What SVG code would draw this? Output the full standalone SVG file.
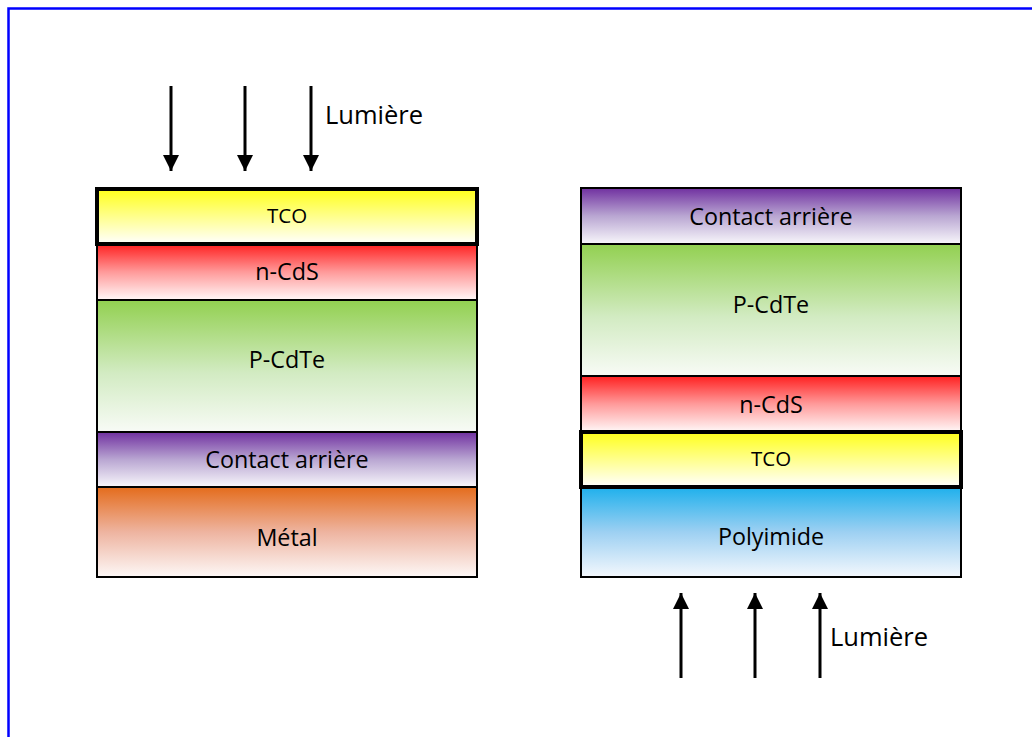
<svg xmlns="http://www.w3.org/2000/svg" width="1032" height="737" viewBox="0 0 1032 737">
  <defs>
    <linearGradient id="gYellow" x1="0" y1="0" x2="0" y2="1">
      <stop offset="0" stop-color="#ffff1a"/>
      <stop offset="1" stop-color="#ffffff"/>
    </linearGradient>
    <linearGradient id="gRed" x1="0" y1="0" x2="0" y2="1">
      <stop offset="0" stop-color="#ff2020"/>
      <stop offset="0.5" stop-color="#ff9a9a"/>
      <stop offset="1" stop-color="#fff8f8"/>
    </linearGradient>
    <linearGradient id="gGreen" x1="0" y1="0" x2="0" y2="1">
      <stop offset="0" stop-color="#92d050"/>
      <stop offset="0.55" stop-color="#d2ebc2"/>
      <stop offset="1" stop-color="#f8fbf6"/>
    </linearGradient>
    <linearGradient id="gPurple" x1="0" y1="0" x2="0" y2="1">
      <stop offset="0" stop-color="#7030a0"/>
      <stop offset="0.5" stop-color="#b9a6d2"/>
      <stop offset="1" stop-color="#f8f7fb"/>
    </linearGradient>
    <linearGradient id="gOrange" x1="0" y1="0" x2="0" y2="1">
      <stop offset="0" stop-color="#e46c1c"/>
      <stop offset="0.5" stop-color="#eeb4a0"/>
      <stop offset="1" stop-color="#fdf8f7"/>
    </linearGradient>
    <linearGradient id="gBlue" x1="0" y1="0" x2="0" y2="1">
      <stop offset="0" stop-color="#1eb0ec"/>
      <stop offset="0.5" stop-color="#9dd0f2"/>
      <stop offset="1" stop-color="#f4f8fd"/>
    </linearGradient>
    <marker id="head" viewBox="0 0 16 16" refX="16" refY="8" markerWidth="16" markerHeight="16" markerUnits="userSpaceOnUse" orient="auto">
      <path d="M0,0 L16,8 L0,16 Z" fill="#000"/>
    </marker>
  </defs>
  <style>
    .layer { stroke: #000; stroke-width: 2; }
    .thick { stroke: #000; stroke-width: 4; }
    .lbl { font-family: "Open Sans", "Liberation Sans", sans-serif; font-size: 23.3px; fill: #000; text-anchor: middle; }
    .small { font-size: 20.5px; }
    .light { font-family: "Open Sans", "Liberation Sans", sans-serif; font-size: 25.5px; fill: #000; }
    .ray { stroke: #000; stroke-width: 3; fill: none; marker-end: url(#head); }
  </style>

  <rect x="0" y="0" width="1032" height="737" fill="#fff"/>
  <!-- frame -->
  <path d="M8.5,737 L8.5,8.5 L1032,8.5" fill="none" stroke="#0000ff" stroke-width="2.5"/>

  <!-- left stack: light from the top -->
  <g id="left-stack">
    <g id="l-ncds"><rect class="layer" x="97" y="244" width="380" height="56" fill="url(#gRed)"/><text class="lbl" x="287" y="280">n-CdS</text></g>
    <g id="l-pcdte"><rect class="layer" x="97" y="300" width="380" height="132" fill="url(#gGreen)"/><text class="lbl" x="287" y="368">P-CdTe</text></g>
    <g id="l-contact"><rect class="layer" x="97" y="432" width="380" height="55" fill="url(#gPurple)"/><text class="lbl" x="287" y="468">Contact arrière</text></g>
    <g id="l-metal"><rect class="layer" x="97" y="487" width="380" height="90" fill="url(#gOrange)"/><text class="lbl" x="287" y="546">Métal</text></g>
    <g id="l-tco"><rect class="thick" x="97" y="189" width="380" height="55" fill="url(#gYellow)"/><text class="lbl small" x="287" y="223">TCO</text></g>
  </g>

  <!-- right stack: light from the bottom -->
  <g id="right-stack">
    <g id="r-contact"><rect class="layer" x="581" y="188" width="380" height="56" fill="url(#gPurple)"/><text class="lbl" x="771" y="225">Contact arrière</text></g>
    <g id="r-pcdte"><rect class="layer" x="581" y="244" width="380" height="132" fill="url(#gGreen)"/><text class="lbl" x="771" y="313">P-CdTe</text></g>
    <g id="r-ncds"><rect class="layer" x="581" y="376" width="380" height="56" fill="url(#gRed)"/><text class="lbl" x="771" y="413">n-CdS</text></g>
    <g id="r-polyimide"><rect class="layer" x="581" y="487" width="380" height="90" fill="url(#gBlue)"/><text class="lbl" x="771" y="545">Polyimide</text></g>
    <g id="r-tco"><rect class="thick" x="581" y="432" width="380" height="55" fill="url(#gYellow)"/><text class="lbl small" x="771" y="466">TCO</text></g>
  </g>

  <!-- incident light -->
  <g id="rays">
    <line class="ray" x1="171" y1="86" x2="171" y2="171"/>
    <line class="ray" x1="245" y1="86" x2="245" y2="171"/>
    <line class="ray" x1="311" y1="86" x2="311" y2="171"/>
    <line class="ray" x1="681" y1="678" x2="681" y2="593"/>
    <line class="ray" x1="755" y1="678" x2="755" y2="593"/>
    <line class="ray" x1="820" y1="678" x2="820" y2="593"/>
  </g>
  <text class="light" x="325" y="124">Lumière</text>
  <text class="light" x="830" y="646">Lumière</text>
</svg>
